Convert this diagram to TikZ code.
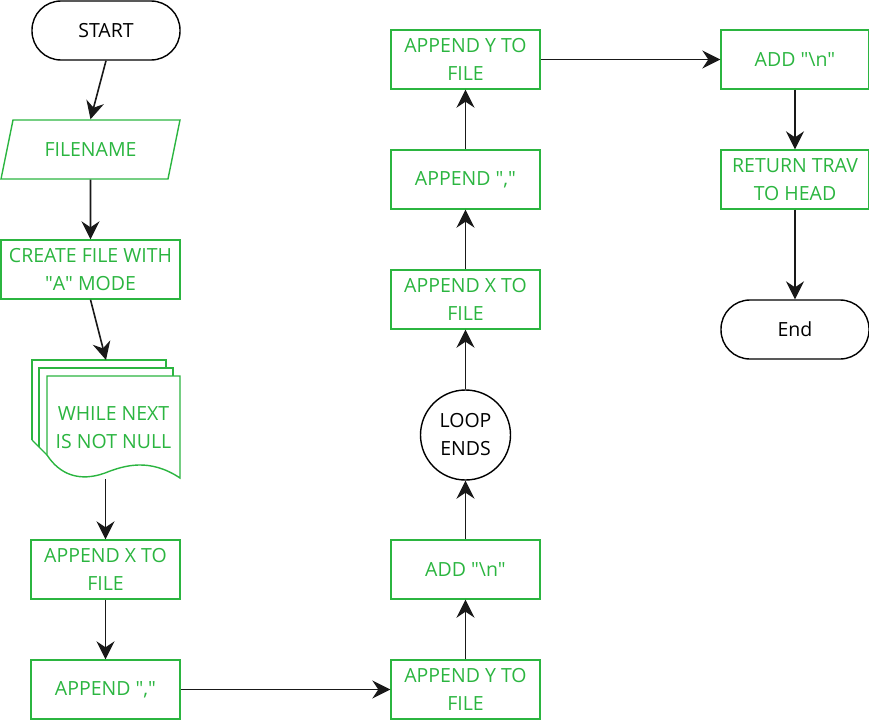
\documentclass[tikz,border=0pt]{standalone}
\usepackage{fontspec}
\setmainfont{Open Sans}
\usetikzlibrary{arrows.meta, shapes.geometric}
\definecolor{flowgreen}{RGB}{43,181,64}
\definecolor{linegray}{RGB}{25,25,25}

\begin{document}
\begin{tikzpicture}[x=1pt, y=-1pt, font=\fontsize{19.5}{28}\selectfont,
	box/.style={draw=flowgreen, text=flowgreen, line width=1.4pt, minimum width=149pt, minimum height=59pt, inner sep=0pt, align=center},
	term/.style={draw=black, line width=1.4pt, rounded corners=29pt, minimum width=148pt, minimum height=59pt, inner sep=0pt},
	arr/.style={draw=linegray, line width=1.6pt, -{Stealth[length=18pt, width=18pt, inset=6pt]}}]
\useasboundingbox (0,0) rectangle (869,720);
\node[term] (start) at (106,30.5) {START};
\node[box, trapezium, trapezium left angle=63, trapezium right angle=117, trapezium stretches=true,
	minimum width=179pt] (filename) at (90.5,149.5) {FILENAME};
\node[box, minimum width=179pt] (create) at (90.5,269.5) {CREATE FILE WITH\\\textquotedbl A\textquotedbl{} MODE};
\draw[flowgreen, line width=1.4pt, fill=white] (32,440) -- (32,360) -- (166,360) -- (166,368);
\draw[flowgreen, line width=1.4pt] (32,440) -- (39,447);
\draw[flowgreen, line width=1.4pt, fill=white] (39,447) -- (39,368) -- (173,368) -- (173,376);
\draw[flowgreen, line width=1.4pt] (39,447) -- (47,455);
\draw[flowgreen, line width=1.4pt, fill=white] (47,455) -- (47,376) -- (180,376) -- (180,478)
	.. controls (150,458) and (125,465) .. (105,473) .. controls (80,482) and (60,475) .. cycle;
\coordinate (stacktop) at (106,360);
\node[text=flowgreen, align=center, minimum height=102pt] (loop) at (113.5,428) {WHILE NEXT\\IS NOT NULL};
\node[box] (apx1) at (105.5,569.5) {APPEND X TO\\FILE};
\node[box] (apc1) at (105.5,689.5) {APPEND \textquotedbl,\textquotedbl};
\node[box] (apy1) at (465.5,689.5) {APPEND Y TO\\FILE};
\node[box] (addn1) at (465.5,569.5) {ADD \textquotedbl\textbackslash n\textquotedbl};
\node[circle, draw=black, line width=1.4pt, minimum size=90pt, inner sep=0pt, align=center] (loopend) at (465.5,435) {LOOP\\ENDS};
\node[box] (apx2) at (465.5,299.5) {APPEND X TO\\FILE};
\node[box] (apc2) at (465.5,179.5) {APPEND \textquotedbl,\textquotedbl};
\node[box] (apy2) at (465.5,59.5) {APPEND Y TO\\FILE};
\node[box, minimum width=148pt] (addn2) at (795,59.5) {ADD \textquotedbl\textbackslash n\textquotedbl};
\node[box, minimum width=148pt] (ret) at (795,179.5) {RETURN TRAV\\TO HEAD};
\node[term] (endn) at (795,329.5) {End};

\draw[arr] (start.south) -- (filename.north);
\draw[arr] (filename.south) -- (create.north);
\draw[arr] (create.south) -- (stacktop);
\draw[arr] (loop.south -| apx1.north) -- (apx1.north);
\draw[arr] (apx1) -- (apc1);
\draw[arr] (apc1) -- (apy1);
\draw[arr] (apy1) -- (addn1);
\draw[arr] (addn1) -- (loopend);
\draw[arr] (loopend) -- (apx2);
\draw[arr] (apx2) -- (apc2);
\draw[arr] (apc2) -- (apy2);
\draw[arr] (apy2) -- (addn2);
\draw[arr] (addn2) -- (ret);
\draw[arr] (ret) -- (endn);
\end{tikzpicture}
\end{document}
